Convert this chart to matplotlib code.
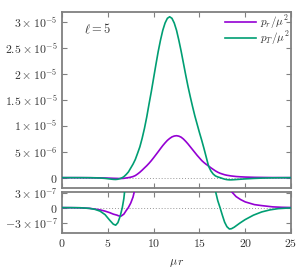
import numpy as np
import matplotlib
matplotlib.use("Agg")
import matplotlib.pyplot as plt

# p_r / mu^2
x_r = [0, 1, 2, 3, 3.6, 4.15, 4.7, 5.2, 5.6, 6.0, 6.2, 6.44, 6.75, 7.0,
       7.24, 7.5, 7.75, 8.0, 8.25, 8.5, 8.75, 9.0, 9.25, 9.5, 9.75, 10.0,
       10.25, 10.5, 10.75, 11.0, 11.25, 11.5, 11.75, 12.0, 12.25, 12.5,
       12.75, 13.0, 13.25, 13.5, 13.75, 14.0, 14.25, 14.5, 14.75, 15.0,
       15.25, 15.5, 15.75, 16.0, 16.25, 16.5, 16.75, 17.0, 17.25, 17.5,
       17.75, 18.0, 18.45, 19.0, 19.5, 20.0, 21.0, 21.8, 23.0, 24.0, 25.0]
p_r = [0, -1e-9, -4e-9, -1.5e-8, -3e-8, -4.5e-8, -7e-8, -1.0e-7, -1.3e-7,
       -1.5e-7, -1.65e-7, -1.7e-7, -1.3e-7, -6e-8,
       0, 9e-8, 2.1e-7, 4e-7, 7e-7, 1.05e-6, 1.45e-6, 1.88e-6, 2.3e-6,
       2.77e-6, 3.28e-6, 3.84e-6,
       4.42e-6, 5.0e-6, 5.6e-6, 6.18e-6, 6.7e-6, 7.18e-6, 7.55e-6, 7.85e-6,
       8.02e-6, 8.08e-6,
       8.0e-6, 7.8e-6, 7.45e-6, 7.0e-6, 6.5e-6, 5.95e-6, 5.4e-6, 4.85e-6,
       4.3e-6, 3.8e-6,
       3.3e-6, 2.9e-6, 2.55e-6, 2.25e-6, 1.9e-6, 1.6e-6, 1.3e-6, 1.05e-6,
       8.5e-7, 7e-7,
       5.6e-7, 4.6e-7, 3.3e-7, 2.2e-7, 1.6e-7, 1.14e-7, 6e-8, 4e-8, 1.5e-8,
       6e-9, 2e-9]

# p_T / mu^2
x_T = [0, 1, 2, 3, 3.6, 4.15, 4.7, 5.2, 5.6, 5.86, 6.1, 6.35, 6.58, 6.75,
       7.0, 7.25, 7.5, 7.75, 8.0, 8.25, 8.5, 8.75, 9.0, 9.25, 9.5, 9.75,
       10.0, 10.25, 10.5, 10.75, 11.0, 11.25, 11.5, 11.75, 12.0, 12.25,
       12.5, 12.75, 13.0, 13.25, 13.5, 13.75, 14.0, 14.25, 14.5, 14.75,
       15.0, 15.25, 15.5, 15.75, 16.0, 16.25, 16.5, 16.75, 17.0, 17.25,
       17.5, 17.75, 18.0, 18.27, 18.5, 18.8, 19.4, 19.98, 20.9, 21.8, 22.7,
       23.6, 25.0]
p_T = [0, -1e-9, -3e-9, -1.5e-8, -3.5e-8, -7e-8, -1.4e-7, -2.5e-7, -3.3e-7,
       -3.5e-7, -3.0e-7, -1.7e-7, 0, 1.8e-7,
       6e-7, 1.1e-6, 1.85e-6, 2.6e-6, 3.5e-6, 4.7e-6, 5.95e-6, 7.6e-6,
       9.5e-6, 1.17e-5, 1.42e-5, 1.66e-5,
       1.92e-5, 2.18e-5, 2.43e-5, 2.65e-5, 2.84e-5, 2.98e-5, 3.07e-5,
       3.10e-5, 3.07e-5, 2.98e-5,
       2.84e-5, 2.65e-5, 2.44e-5, 2.21e-5, 1.98e-5, 1.76e-5, 1.56e-5,
       1.37e-5, 1.19e-5, 1.03e-5,
       8.7e-6, 7.2e-6, 5.6e-6, 3.9e-6, 2.2e-6, 1.3e-6, 7e-7, 3.3e-7, 1.4e-7, 0,
       -1.5e-7, -2.9e-7, -3.8e-7, -4.26e-7, -4.2e-7, -3.9e-7, -3.1e-7,
       -2.4e-7, -1.5e-7, -8.6e-8, -4.5e-8,
       -2e-8, -5e-9]

top_ticks = [0, 5e-6, 1e-5, 1.5e-5, 2e-5, 2.5e-5, 3e-5]
top_labels = ["$0$", r"$5\times10^{-6}$", r"$1\times10^{-5}$",
              r"$1.5\times10^{-5}$", r"$2\times10^{-5}$",
              r"$2.5\times10^{-5}$", r"$3\times10^{-5}$"]
bot_ticks = [-3e-7, 0, 3e-7]
bot_labels = [r"$-3\times10^{-7}$", "$0$", r"$3\times10^{-7}$"]
x_ticks = [0, 5, 10, 15, 20, 25]

purple = "#9400d3"
green = "#009e73"
grey = "#808080"

plt.rcParams["mathtext.fontset"] = "cm"
plt.rcParams["font.size"] = 8.5

fig = plt.figure(figsize=(3.07, 2.69), dpi=100)
ax1 = fig.add_axes([0.202, 0.301, 0.746, 0.654])
ax2 = fig.add_axes([0.202, 0.134, 0.746, 0.152])

for ax in (ax1, ax2):
    ax.axhline(0, color="#999999", lw=0.7, ls=(0, (1, 2)), zorder=1)
    ax.plot(x_r, p_r, color=purple, lw=1.2, label=r"$p_r/\mu^2$", zorder=3)
    ax.plot(x_T, p_T, color=green, lw=1.2, label=r"$p_T/\mu^2$", zorder=3)
    ax.set_xlim(0, 25)
    ax.set_xticks(x_ticks)
    for s in ax.spines.values():
        s.set_color(grey)
        s.set_linewidth(1.3)
    ax.tick_params(direction="in", length=3.5, width=0.8, color=grey,
                   top=True, right=True, labelcolor="#333333", pad=3)

ax1.set_ylim(-2.0e-6, 3.19e-5)
ax1.set_yticks(top_ticks)
ax1.set_yticklabels(top_labels)
ax1.set_xticklabels([])
ax1.text(2.4, 2.86e-5, r"$\ell=5$", fontsize=9, color="#333333", va="center")
ax1.legend(loc="upper right", frameon=False, handlelength=2.8,
           handletextpad=0.4, labelspacing=-0.1, borderaxespad=0.0,
           borderpad=0.1, fontsize=8, labelcolor="#333333")

ax2.set_ylim(-5.05e-7, 3.1e-7)
ax2.set_yticks(bot_ticks)
ax2.set_yticklabels(bot_labels)
ax2.set_xticklabels(["$%d$" % t for t in x_ticks])
ax2.set_xlabel(r"$\mu\, r$", color="#333333", labelpad=4)

fig.savefig("out.png", dpi=100)
